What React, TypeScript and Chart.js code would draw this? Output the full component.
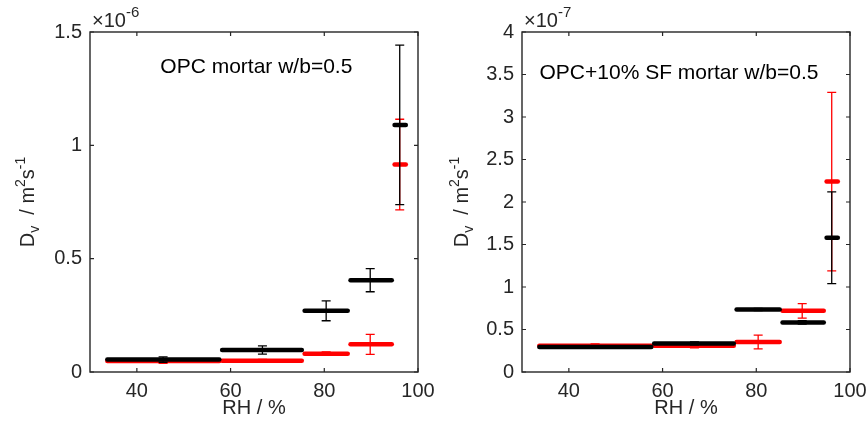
import React, { useEffect, useRef } from "react";
import { Chart, registerables } from "chart.js";
Chart.register(...registerables);

// RH ranges (%) of each measurement step and the RH at which the error bar sits
const rhLow = [33.7, 58.2, 75.8, 85.6, 95.0];
const rhHigh = [57.6, 75.2, 85.0, 94.4, 97.4];
const rhMid = [45.6, 66.8, 80.4, 89.8, 96.1];

// Left panel: OPC mortar w/b=0.5, Dv in units of 1e-6 m2/s
const opcBlack = [0.055, 0.097, 0.27, 0.405, 1.09];
const opcBlackErr = [0.012, 0.018, 0.044, 0.051, 0.352];
const opcRed = [0.048, 0.05, 0.081, 0.122, 0.915];
const opcRedErr = [0.01, 0.006, 0.008, 0.044, 0.2];

// Right panel: OPC+10% SF mortar w/b=0.5, Dv in units of 1e-7 m2/s
const sfBlack = [0.294, 0.336, 0.735, 0.583, 1.58];
const sfBlackErr = [0.01, 0.018, 0.012, 0.02, 0.54];
const sfRed = [0.31, 0.309, 0.353, 0.72, 2.24];
const sfRedErr = [0.022, 0.025, 0.08, 0.085, 1.05];

const xTicks = [40, 60, 80, 100];
const opcYTicks = [0, 0.5, 1, 1.5];
const sfYTicks = [0, 0.5, 1, 1.5, 2, 2.5, 3, 3.5, 4];

const FONT = "'Liberation Sans', Arial, Helvetica, sans-serif";
const AXIS_COLOR = "#262626";

type PanelCfg = {
  yMax: number;
  yTicks: number[];
  exponent: string;
  label: string;
  labelX: number;
  labelY: number;
  black: number[];
  blackErr: number[];
  red: number[];
  redErr: number[];
  axisWidth: number;
  rightPad: number;
};

const panels: PanelCfg[] = [
  {
    yMax: 1.5,
    yTicks: opcYTicks,
    exponent: "-6",
    label: "OPC mortar w/b=0.5",
    labelX: 65.5,
    labelY: 1.345,
    black: opcBlack,
    blackErr: opcBlackErr,
    red: opcRed,
    redErr: opcRedErr,
    axisWidth: 90,
    rightPad: 16,
  },
  {
    yMax: 4,
    yTicks: sfYTicks,
    exponent: "-7",
    label: "OPC+10% SF mortar w/b=0.5",
    labelX: 63.5,
    labelY: 3.52,
    black: sfBlack,
    blackErr: sfBlackErr,
    red: sfRed,
    redErr: sfRedErr,
    axisWidth: 88,
    rightPad: 18,
  },
];

function drawErr(chart: any, vals: number[], errs: number[], color: string) {
  const ctx = chart.ctx;
  const xs = chart.scales.x;
  const ys = chart.scales.y;
  ctx.save();
  ctx.strokeStyle = color;
  ctx.lineWidth = 1.3;
  for (let i = 0; i < vals.length; i++) {
    const x = xs.getPixelForValue(rhMid[i]);
    const yt = ys.getPixelForValue(vals[i] + errs[i]);
    const yb = ys.getPixelForValue(vals[i] - errs[i]);
    ctx.beginPath();
    ctx.moveTo(x, yt);
    ctx.lineTo(x, yb);
    ctx.moveTo(x - 4.5, yt);
    ctx.lineTo(x + 4.5, yt);
    ctx.moveTo(x - 4.5, yb);
    ctx.lineTo(x + 4.5, yb);
    ctx.stroke();
  }
  ctx.restore();
}

function makePlugin(cfg: PanelCfg) {
  const n = rhLow.length;
  return {
    id: "panelDecor",
    afterDatasetDraw(chart: any, args: any) {
      if (args.index === n - 1) drawErr(chart, cfg.black, cfg.blackErr, "#000000");
      if (args.index === 2 * n - 1) drawErr(chart, cfg.red, cfg.redErr, "#ff0000");
    },
    afterDraw(chart: any) {
      const ctx = chart.ctx;
      const { left, right, top, bottom } = chart.chartArea;
      const xs = chart.scales.x;
      const ys = chart.scales.y;
      ctx.save();
      // box
      ctx.strokeStyle = AXIS_COLOR;
      ctx.lineWidth = 1.4;
      ctx.strokeRect(left, top, right - left, bottom - top);
      // inward ticks
      ctx.lineWidth = 1.2;
      ctx.beginPath();
      for (const v of xTicks) {
        const x = xs.getPixelForValue(v);
        ctx.moveTo(x, bottom);
        ctx.lineTo(x, bottom - 4);
        ctx.moveTo(x, top);
        ctx.lineTo(x, top + 4);
      }
      for (const v of cfg.yTicks) {
        const y = ys.getPixelForValue(v);
        ctx.moveTo(left, y);
        ctx.lineTo(left + 4, y);
        ctx.moveTo(right, y);
        ctx.lineTo(right - 4, y);
      }
      ctx.stroke();

      // exponent label
      ctx.fillStyle = AXIS_COLOR;
      ctx.textBaseline = "alphabetic";
      ctx.textAlign = "left";
      ctx.font = `20px ${FONT}`;
      const ex = left + 2;
      ctx.fillText("\u00d710", ex, top - 5);
      const w1 = ctx.measureText("\u00d710").width;
      ctx.font = `15px ${FONT}`;
      ctx.fillText(cfg.exponent, ex + w1, top - 15);

      // y title with sub/superscripts
      const pieces = [
        { t: "D", s: 20, dy: 0 },
        { t: "v", s: 14, dy: 5 },
        { t: "  / m", s: 20, dy: 0 },
        { t: "2", s: 14, dy: -9 },
        { t: "s", s: 20, dy: 0 },
        { t: "-1", s: 14, dy: -9 },
      ];
      let total = 0;
      const widths: number[] = [];
      for (const p of pieces) {
        ctx.font = `${p.s}px ${FONT}`;
        const w = ctx.measureText(p.t).width;
        widths.push(w);
        total += w;
      }
      ctx.save();
      ctx.translate(34, (top + bottom) / 2);
      ctx.rotate(-Math.PI / 2);
      let cx = -total / 2;
      pieces.forEach((p, i) => {
        ctx.font = `${p.s}px ${FONT}`;
        ctx.fillText(p.t, cx, p.dy);
        cx += widths[i];
      });
      ctx.restore();

      // x title
      ctx.font = `20px ${FONT}`;
      ctx.textAlign = "center";
      ctx.textBaseline = "middle";
      ctx.fillText("RH / %", (left + right) / 2, 408);

      // annotation
      ctx.fillStyle = "#000000";
      ctx.font = `21px ${FONT}`;
      ctx.fillText(cfg.label, xs.getPixelForValue(cfg.labelX), ys.getPixelForValue(cfg.labelY));
      ctx.restore();
    },
  };
}

function buildConfig(cfg: PanelCfg): any {
  const datasets: any[] = [];
  const addSeries = (vals: number[], color: string) => {
    vals.forEach((v, i) => {
      datasets.push({
        data: [
          { x: rhLow[i], y: v },
          { x: rhHigh[i], y: v },
        ],
        showLine: true,
        borderColor: color,
        backgroundColor: color,
        borderWidth: 4.5,
        borderCapStyle: "round",
        pointRadius: 0,
        clip: false,
      });
    });
  };
  addSeries(cfg.black, "#000000");
  addSeries(cfg.red, "#ff0000");
  const tickFont = { family: FONT, size: 20 };
  return {
    type: "scatter",
    data: { datasets },
    options: {
      responsive: false,
      animation: false,
      devicePixelRatio: 1,
      layout: { padding: { left: 0, top: 32, right: cfg.rightPad, bottom: 0 } },
      plugins: { legend: { display: false }, tooltip: { enabled: false } },
      scales: {
        x: {
          type: "linear",
          min: 30,
          max: 100,
          afterBuildTicks: (s: any) => {
            s.ticks = xTicks.map((v) => ({ value: v }));
          },
          afterFit: (s: any) => {
            s.height = 49;
            s.paddingLeft = 0;
            s.paddingRight = 0;
          },
          grid: { display: false, drawTicks: false },
          border: { display: false },
          ticks: {
            font: tickFont,
            color: AXIS_COLOR,
            padding: 7,
            autoSkip: false,
            maxRotation: 0,
            callback: (v: any) => String(v),
          },
        },
        y: {
          type: "linear",
          min: 0,
          max: cfg.yMax,
          afterBuildTicks: (s: any) => {
            s.ticks = cfg.yTicks.map((v) => ({ value: v }));
          },
          afterFit: (s: any) => {
            s.width = cfg.axisWidth;
            s.paddingTop = 0;
            s.paddingBottom = 0;
          },
          grid: { display: false, drawTicks: false },
          border: { display: false },
          ticks: {
            font: tickFont,
            color: AXIS_COLOR,
            padding: 8,
            autoSkip: false,
            callback: (v: any) => String(v),
          },
        },
      },
    },
    plugins: [makePlugin(cfg)],
  };
}

export default function App() {
  const leftRef = useRef<HTMLCanvasElement>(null);
  const rightRef = useRef<HTMLCanvasElement>(null);

  useEffect(() => {
    const charts: Chart[] = [];
    [leftRef, rightRef].forEach((ref, i) => {
      if (ref.current) charts.push(new Chart(ref.current, buildConfig(panels[i])));
    });
    return () => charts.forEach((c) => c.destroy());
  }, []);

  return (
    <div style={{ position: "fixed", left: 0, top: 0, width: 868, height: 421, background: "#fff" }}>
      <canvas ref={leftRef} width={434} height={421} style={{ position: "absolute", left: 0, top: 0, width: 434, height: 421 }} />
      <canvas ref={rightRef} width={434} height={421} style={{ position: "absolute", left: 434, top: 0, width: 434, height: 421 }} />
    </div>
  );
}
